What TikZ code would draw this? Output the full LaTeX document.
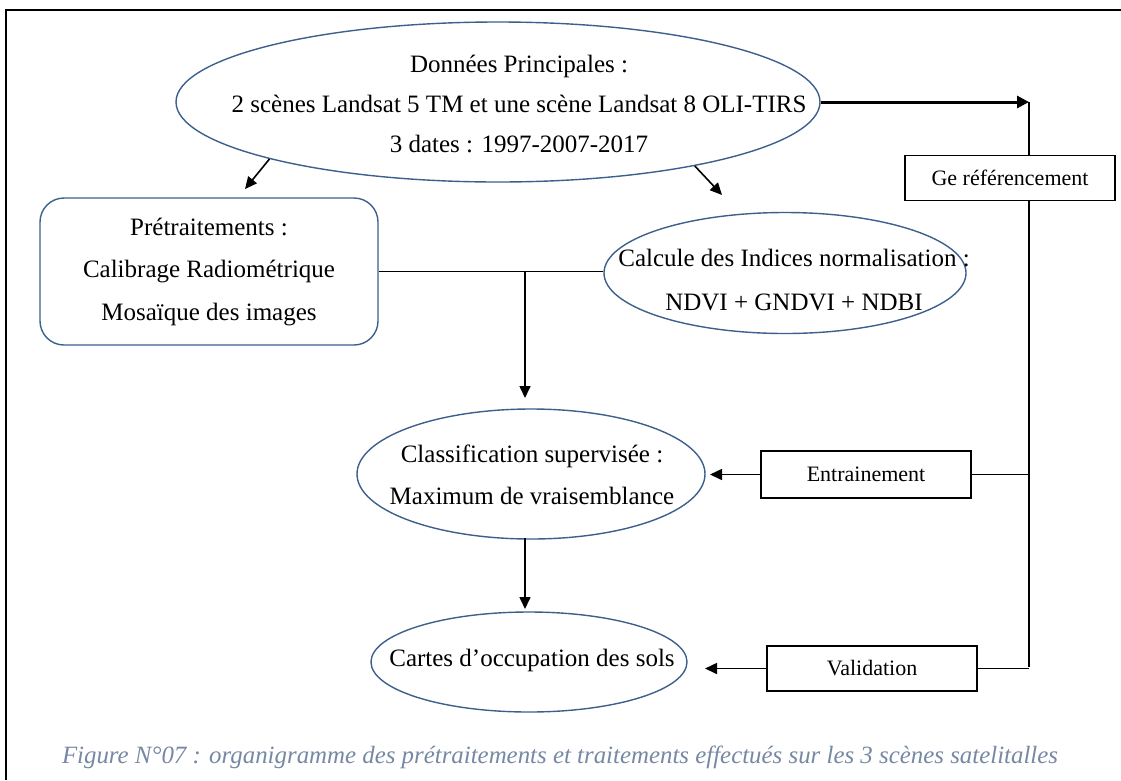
\documentclass[tikz,border=0pt]{standalone}
\usepackage{graphicx}
\usepackage{fontspec}
\setmainfont{Liberation Serif}
\usetikzlibrary{shapes.geometric,arrows.meta,calc}
\definecolor{ellblue}{RGB}{60,95,140}
\definecolor{capcol}{RGB}{118,136,163}
\begin{document}
\begin{tikzpicture}[x=1pt,y=-1pt,
  ell/.style={draw=ellblue,line width=1.4pt,ellipse,inner sep=0pt},
  etxt/.style={align=center,inner sep=0pt,font=\fontsize{25}{42}\selectfont},
  rbox/.style={draw=black,line width=1.3pt,rectangle,inner sep=0pt,fill=white,font=\fontsize{22}{26}\selectfont},
  conn/.style={line width=1.6pt},
  arr/.style={conn,-{Triangle[length=12pt,width=11pt]}},
]
\useasboundingbox (0,0) rectangle (1121,780);
\draw[line width=2pt] (6,780) -- (6,10) -- (1121,10);

% top ellipse
\node[ell,minimum width=644pt,minimum height=160pt] (top) at (498,102) {};
\node[etxt,font=\fontsize{25}{40}\selectfont] (topt) at (519,104) {Données Principales :\\2 scènes Landsat 5 TM et une scène Landsat 8 OLI-TIRS\\3 dates : 1997-2007-2017};

% pretraitements
\node[draw=ellblue,line width=1.4pt,rounded corners=24pt,minimum width=338pt,minimum height=147pt,align=center,font=\fontsize{25}{42.5}\selectfont] (pre) at (209,271.5) {Prétraitements :\\Calibrage Radiométrique\\Mosaïque des images};

% calcule
\node[ell,minimum width=362pt,minimum height=121pt] (calc) at (785,273) {};
\node[etxt,font=\fontsize{25}{44}\selectfont] (calct) at (794,280) {Calcule des Indices normalisation :\\NDVI + GNDVI + NDBI};

% classification
\node[ell,minimum width=348pt,minimum height=130pt] (class) at (531,474) {};
\node[etxt] (classt) at (532,475) {Classification supervisée :\\Maximum de vraisemblance};

% cartes
\node[ell,minimum width=316pt,minimum height=100pt] (cartes) at (529,662) {};
\node[etxt] (cartest) at (532,660) {Cartes d’occupation des sols};

% right side
\coordinate (ar) at (1029,102);
\coordinate (vb) at (1029,667);
\draw[line width=3pt,-{Triangle[length=12pt,width=12pt]}] (top.east) -- (ar);
\draw[conn] (ar) -- (vb);
\node[rbox,minimum width=210pt,minimum height=45pt] (geo) at (1010,178) {Ge référencement};
\node[rbox,minimum width=210pt,minimum height=47pt] (ent) at (866,474.5) {Entrainement};
\node[rbox,minimum width=210pt,minimum height=45pt] (val) at (872,668.5) {Validation};
\draw[conn] (ent.east) -- (ent.east -| vb);
\draw[conn] (val.east) -- (val.east -| vb);
\coordinate (et) at (710,474.5);
\coordinate (vt) at (705,668.5);
\draw[arr] (ent.west) -- (et);
\draw[arr] (val.west) -- (vt);

% diagonal arrows
\coordinate (d1) at (245,189);
\coordinate (d2) at (722,195);
\draw[arr] (top.194) -- (d1);
\draw[arr] (top.-18) -- (d2);

% junction
\coordinate (j) at (525,271.5);
\coordinate (jt) at (525,398);
\draw[conn] (pre.east) -- (pre.east -| calc.west);
\draw[arr] (j) -- (jt);
\coordinate (c1) at (525,538);
\coordinate (c2) at (525,609);
\draw[arr] (c1) -- (c2);

% caption
\node[inner sep=0pt,text=capcol,font=\fontsize{24}{28}\selectfont\itshape] (cap) at (560,757) {\resizebox{996pt}{!}{Figure N°07 : organigramme des prétraitements et traitements effectués sur les 3 scènes satelitalles}};
\end{tikzpicture}
\end{document}
